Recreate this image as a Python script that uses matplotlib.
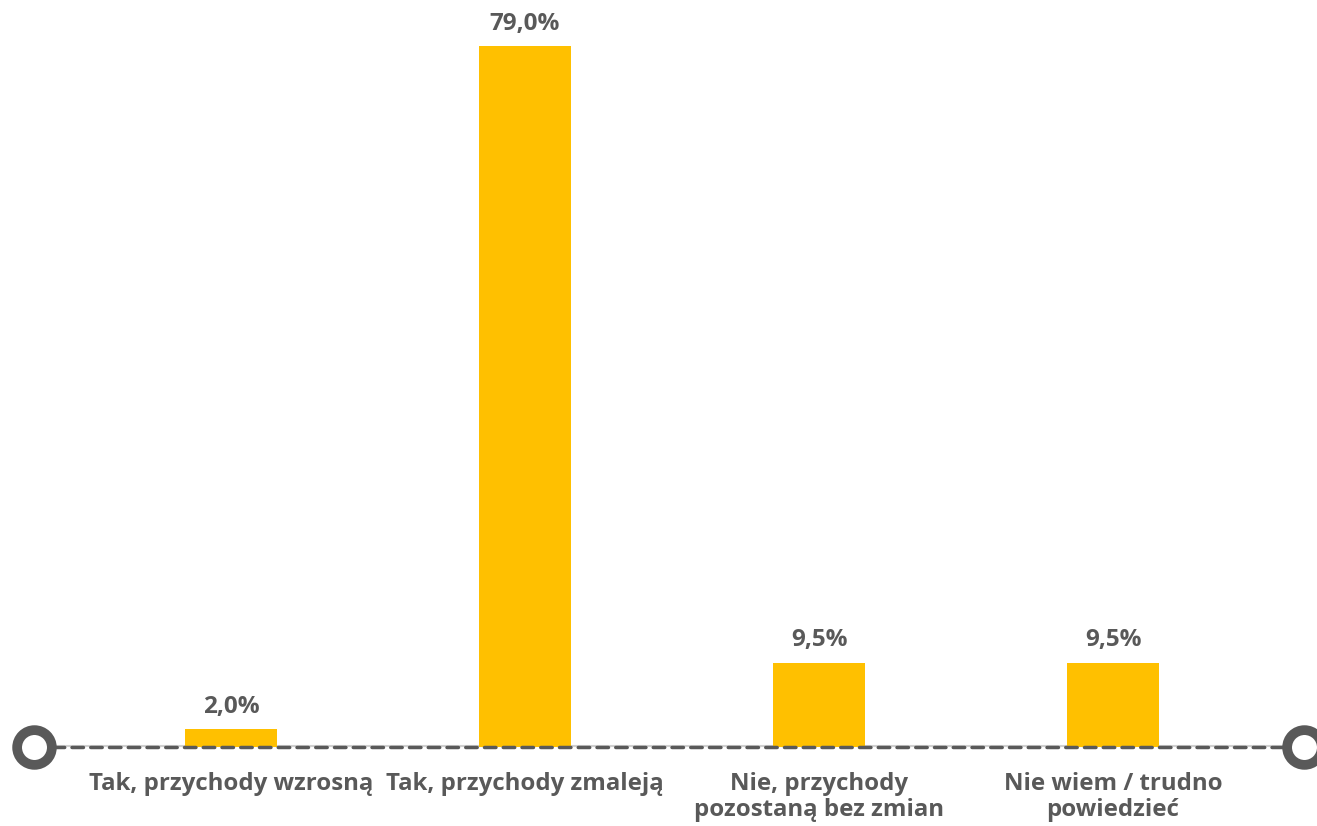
import matplotlib.pyplot as plt
import numpy as np

# dane
kategorie = ['Tak, przychody wzrosną', 'Tak, przychody zmaleją',
             'Nie, przychody\npozostaną bez zmian', 'Nie wiem / trudno\npowiedzieć']
wartosci = [2.0, 79.0, 9.5, 9.5]
etykiety = ['2,0%', '79,0%', '9,5%', '9,5%']

ZOLTY = '#FFC000'
SZARY = '#595959'

plt.rcParams['font.family'] = ['Open Sans', 'DejaVu Sans']

fig = plt.figure(figsize=(13.17, 8.26), dpi=100)
ax = fig.add_axes([0, 0, 1, 1])

x = np.arange(len(kategorie))
ax.bar(x, wartosci, width=0.31, color=ZOLTY, zorder=2)

for xi, v, t in zip(x, wartosci, etykiety):
    ax.text(xi, v + 1.2, t, ha='center', va='bottom', fontsize=17.5,
            fontweight='bold', color=SZARY)

for xi, k in zip(x, kategorie):
    ax.text(xi, -2.8, k, ha='center', va='top', fontsize=17.3,
            fontweight='bold', color=SZARY, linespacing=1.12)

# os z kolkami na koncach
x0, x1 = -0.67, 3.65
ax.plot([x0, x1], [0.1, 0.1], color='#D0D0D0', lw=1.5, zorder=1)
ax.plot([x0, x1], [0, 0], color=SZARY, lw=2.5, ls=(0, (3.3, 2.1)),
        dash_capstyle='round', zorder=3)
ax.plot([x0, x1], [0, 0], ls='none', marker='o', ms=25, mfc='white',
        mec=SZARY, mew=7, zorder=4)

ax.set_xlim(-231 / 294, (1317 - 231) / 294)
ax.set_ylim(-79 / 8.87, 747 / 8.87)
ax.axis('off')

fig.savefig('out.png', dpi=100)
